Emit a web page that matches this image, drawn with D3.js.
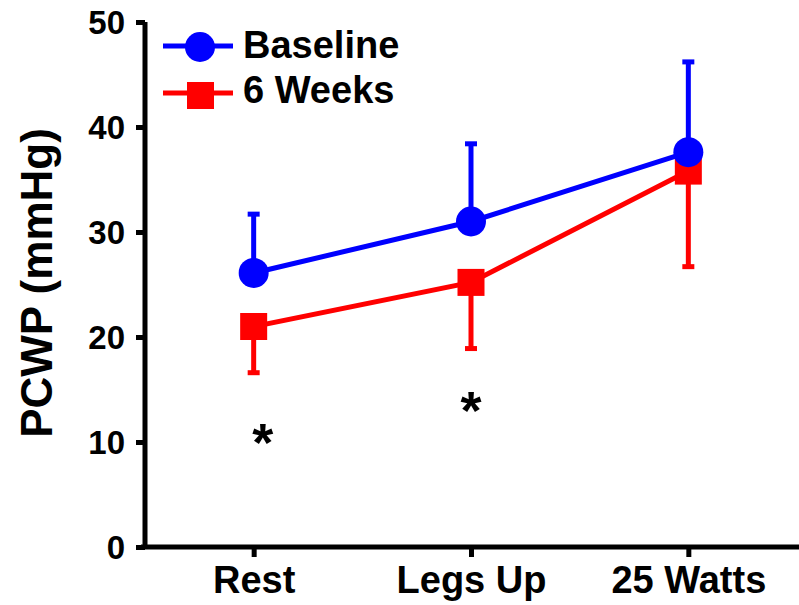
<!DOCTYPE html>
<html>
<head>
<meta charset="utf-8">
<script src="https://cdn.jsdelivr.net/npm/d3@7"></script>
<style>
  body { margin: 0; background: #fff; }
  text { font-family: "Liberation Sans", Arial, sans-serif; font-weight: bold; }
</style>
</head>
<body>
<div class="chart"></div>
<script>
// data
var categories = ["Rest", "Legs Up", "25 Watts"];
var baseline = [26.1, 31.0, 37.6];
var baselineErr = [5.6, 7.4, 8.6];   // drawn upward only
var weeks6 = [21.0, 25.2, 35.8];
var weeks6Err = [4.4, 6.3, 9.1];     // drawn downward only
var yTicks = [0, 10, 20, 30, 40, 50];
var stars = [{ cat: "Rest", y: 11.1, dx: 9 }, { cat: "Legs Up", y: 14.2, dx: 0 }];

var svgWidth = 799;
var svgHeight = 605;

var margin = { top: 22, right: 2, bottom: 58, left: 145 };
var width = svgWidth - margin.left - margin.right;
var height = svgHeight - margin.top - margin.bottom;

var svg = d3.select(".chart")
  .append("svg")
  .attr("width", svgWidth)
  .attr("height", svgHeight);

var chartGroup = svg.append("g")
  .attr("transform", `translate(${margin.left}, ${margin.top})`);

var xScale = d3.scalePoint()
  .domain(categories)
  .range([0, width])
  .padding(0.5);

var yScale = d3.scaleLinear()
  .domain([0, 50])
  .range([height, 0]);

// y axis
var yAxis = chartGroup.append("g")
  .call(d3.axisLeft(yScale).tickValues(yTicks).tickSize(9).tickPadding(11));
yAxis.select(".domain").attr("stroke-width", 5).attr("d", `M0,${height + 2}V0`);
yAxis.selectAll(".tick line").attr("stroke-width", 5);
yAxis.selectAll(".tick text").attr("font-size", 33).attr("fill", "#000").attr("dy", "0.36em");

// x axis
var xAxis = chartGroup.append("g")
  .attr("transform", `translate(0, ${height})`)
  .call(d3.axisBottom(xScale).tickSize(10).tickPadding(9));
xAxis.select(".domain").attr("stroke-width", 5).attr("d", `M-4,0H${width + 4}`);
xAxis.selectAll(".tick line").attr("stroke-width", 5);
xAxis.selectAll(".tick text").attr("font-size", 38).attr("fill", "#000").attr("dy", "0.71em");

// y label
chartGroup.append("text")
  .attr("transform", `translate(${52 - margin.left}, ${283 - margin.top}) rotate(-90)`)
  .attr("text-anchor", "middle")
  .attr("font-size", 44)
  .text("PCWP (mmHg)");

function errorBar(g, vals, errs, dir, color) {
  g.selectAll(".err-" + color)
    .data(vals)
    .enter()
    .append("line")
    .attr("x1", (d, i) => xScale(categories[i]))
    .attr("x2", (d, i) => xScale(categories[i]))
    .attr("y1", d => yScale(d))
    .attr("y2", (d, i) => yScale(d + dir * errs[i]))
    .attr("stroke", color)
    .attr("stroke-width", 5);
  g.selectAll(".cap-" + color)
    .data(vals)
    .enter()
    .append("line")
    .attr("x1", (d, i) => xScale(categories[i]) - 6)
    .attr("x2", (d, i) => xScale(categories[i]) + 6)
    .attr("y1", (d, i) => yScale(d + dir * errs[i]))
    .attr("y2", (d, i) => yScale(d + dir * errs[i]))
    .attr("stroke", color)
    .attr("stroke-width", 5);
}

var line = d3.line()
  .x((d, i) => xScale(categories[i]))
  .y(d => yScale(d));

// 6 weeks series (drawn first, under baseline)
errorBar(chartGroup, weeks6, weeks6Err, -1, "red");
chartGroup.append("path")
  .datum(weeks6)
  .attr("d", line)
  .attr("fill", "none")
  .attr("stroke", "red")
  .attr("stroke-width", 5);
chartGroup.selectAll(".sq")
  .data(weeks6)
  .enter()
  .append("rect")
  .attr("x", (d, i) => xScale(categories[i]) - 13.5)
  .attr("y", d => yScale(d) - 13.5)
  .attr("width", 27)
  .attr("height", 27)
  .attr("fill", "red");

// baseline series
errorBar(chartGroup, baseline, baselineErr, 1, "blue");
chartGroup.append("path")
  .datum(baseline)
  .attr("d", line)
  .attr("fill", "none")
  .attr("stroke", "blue")
  .attr("stroke-width", 5);
chartGroup.selectAll(".dot")
  .data(baseline)
  .enter()
  .append("circle")
  .attr("cx", (d, i) => xScale(categories[i]))
  .attr("cy", d => yScale(d))
  .attr("r", 15)
  .attr("fill", "blue");

// significance stars
chartGroup.selectAll(".star")
  .data(stars)
  .enter()
  .append("text")
  .attr("x", d => xScale(d.cat) + d.dx)
  .attr("y", d => yScale(d.y))
  .attr("dy", "0.57em")
  .attr("text-anchor", "middle")
  .attr("font-size", 54)
  .attr("font-weight", "normal")
  .text("*");

// legend
var legend = svg.append("g").attr("transform", "translate(163, 46)");
legend.append("line").attr("x1", 0).attr("x2", 70).attr("y1", 0).attr("y2", 0)
  .attr("stroke", "blue").attr("stroke-width", 5);
legend.append("circle").attr("cx", 37).attr("cy", 1).attr("r", 15).attr("fill", "blue");
legend.append("text").attr("x", 80).attr("y", 12).attr("font-size", 38).text("Baseline");
legend.append("line").attr("x1", 0).attr("x2", 70).attr("y1", 47).attr("y2", 47)
  .attr("stroke", "red").attr("stroke-width", 5);
legend.append("rect").attr("x", 24).attr("y", 36).attr("width", 27).attr("height", 27).attr("fill", "red");
legend.append("text").attr("x", 80).attr("y", 57).attr("font-size", 38).text("6 Weeks");
</script>
</body>
</html>
